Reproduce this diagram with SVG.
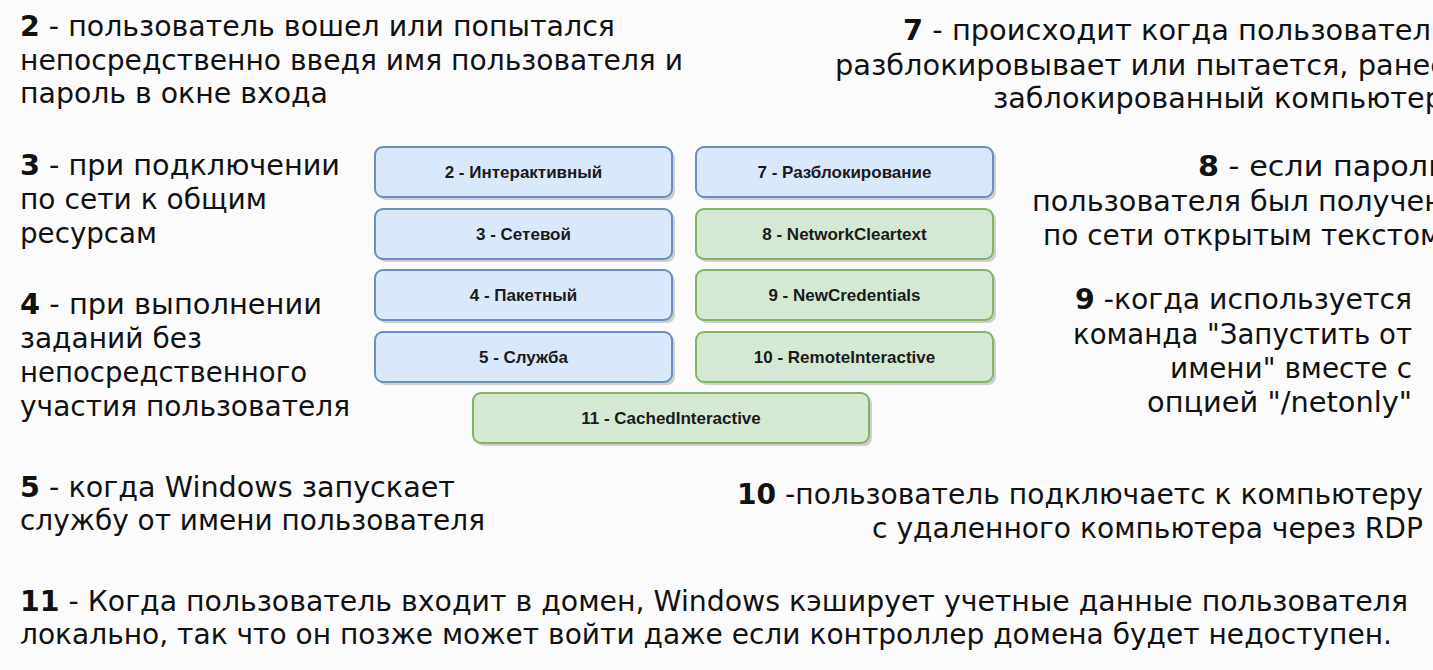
<svg xmlns="http://www.w3.org/2000/svg" width="1433" height="670" viewBox="0 0 1433 670">
<style>
.t{font-family:"DejaVu Sans","Verdana",sans-serif;font-size:28px;fill:#111}
.b{font-weight:bold}
.bx{font-family:"Liberation Sans",Arial,sans-serif;font-size:17px;font-weight:bold;fill:#1a1a1a;text-anchor:middle}
.blue{fill:#dae8fc;stroke:#6c8ebf;stroke-width:2}
.green{fill:#d5e8d4;stroke:#82b366;stroke-width:2}
.sh{fill:#9a9a9a;opacity:0.45}
</style>
<rect width="1433" height="670" fill="#fbfbfb"/>

<g id="desc2">
<text class="t" x="20" y="36" textLength="595" lengthAdjust="spacingAndGlyphs"><tspan class="b">2</tspan> - пользователь вошел или попытался</text>
<text class="t" x="20" y="70" textLength="663" lengthAdjust="spacingAndGlyphs">непосредственно введя имя пользователя и</text>
<text class="t" x="20" y="103" textLength="308" lengthAdjust="spacingAndGlyphs">пароль в окне входа</text>
</g>
<g id="desc3">
<text class="t" x="20" y="175" textLength="320" lengthAdjust="spacingAndGlyphs"><tspan class="b">3</tspan> - при подключении</text>
<text class="t" x="20" y="209" textLength="247" lengthAdjust="spacingAndGlyphs">по сети к общим</text>
<text class="t" x="20" y="243" textLength="137" lengthAdjust="spacingAndGlyphs">ресурсам</text>
</g>
<g id="desc4">
<text class="t" x="20" y="314" textLength="302" lengthAdjust="spacingAndGlyphs"><tspan class="b">4</tspan> - при выполнении</text>
<text class="t" x="20" y="348" textLength="182" lengthAdjust="spacingAndGlyphs">заданий без</text>
<text class="t" x="20" y="382" textLength="287" lengthAdjust="spacingAndGlyphs">непосредственного</text>
<text class="t" x="20" y="416" textLength="330" lengthAdjust="spacingAndGlyphs">участия пользователя</text>
</g>
<g id="desc5">
<text class="t" x="20" y="497" textLength="435" lengthAdjust="spacingAndGlyphs"><tspan class="b">5</tspan> - когда Windows запускает</text>
<text class="t" x="20" y="530" textLength="465" lengthAdjust="spacingAndGlyphs">службу от имени пользователя</text>
</g>
<g id="desc7">
<text class="t" x="903" y="40" textLength="545" lengthAdjust="spacingAndGlyphs"><tspan class="b">7</tspan> - происходит когда пользователь</text>
<text class="t" x="835" y="75" textLength="613" lengthAdjust="spacingAndGlyphs">разблокировывает или пытается, ранее</text>
<text class="t" x="993" y="108" textLength="450" lengthAdjust="spacingAndGlyphs">заблокированный компьютер</text>
</g>
<g id="desc8">
<text class="t" x="1198" y="176" textLength="248" lengthAdjust="spacingAndGlyphs"><tspan class="b">8</tspan> - если пароль</text>
<text class="t" x="1032" y="211" textLength="411" lengthAdjust="spacingAndGlyphs">пользователя был получен</text>
<text class="t" x="1043" y="245" textLength="398" lengthAdjust="spacingAndGlyphs">по сети открытым текстом</text>
</g>
<g id="desc9">
<text class="t" x="1075" y="309" textLength="337" lengthAdjust="spacingAndGlyphs"><tspan class="b">9</tspan> -когда используется</text>
<text class="t" x="1073" y="344" textLength="339" lengthAdjust="spacingAndGlyphs">команда "Запустить от</text>
<text class="t" x="1170" y="378" textLength="242" lengthAdjust="spacingAndGlyphs">имени" вместе с</text>
<text class="t" x="1147" y="412" textLength="265" lengthAdjust="spacingAndGlyphs">опцией "/netonly"</text>
</g>
<g id="desc10">
<text class="t" x="737" y="504" textLength="686" lengthAdjust="spacingAndGlyphs"><tspan class="b">10</tspan> -пользователь подключаетс к компьютеру</text>
<text class="t" x="872" y="538" textLength="551" lengthAdjust="spacingAndGlyphs">с удаленного компьютера через RDP</text>
</g>
<g id="desc11">
<text class="t" x="20" y="611" textLength="1388" lengthAdjust="spacingAndGlyphs"><tspan class="b">11</tspan> - Когда пользователь входит в домен, Windows кэширует учетные данные пользователя</text>
<text class="t" x="20" y="644" textLength="1372" lengthAdjust="spacingAndGlyphs">локально, так что он позже может войти даже если контроллер домена будет недоступен.</text>
</g>

<g id="connectors"></g>

<g id="node2">
<rect class="sh" x="378" y="150" width="297" height="50" rx="8"/>
<rect class="blue" x="375" y="147" width="297" height="50" rx="8"/>
<text class="bx" x="523.5" y="178">2 - Интерактивный</text>
</g>
<g id="node3">
<rect class="sh" x="378" y="212" width="297" height="50" rx="8"/>
<rect class="blue" x="375" y="209" width="297" height="50" rx="8"/>
<text class="bx" x="523.5" y="240">3 - Сетевой</text>
</g>
<g id="node4">
<rect class="sh" x="378" y="273" width="297" height="50" rx="8"/>
<rect class="blue" x="375" y="270" width="297" height="50" rx="8"/>
<text class="bx" x="523.5" y="301">4 - Пакетный</text>
</g>
<g id="node5">
<rect class="sh" x="378" y="335" width="297" height="50" rx="8"/>
<rect class="blue" x="375" y="332" width="297" height="50" rx="8"/>
<text class="bx" x="523.5" y="363">5 - Служба</text>
</g>
<g id="node7">
<rect class="sh" x="699" y="150" width="297" height="50" rx="8"/>
<rect class="blue" x="696" y="147" width="297" height="50" rx="8"/>
<text class="bx" x="844.5" y="178">7 - Разблокирование</text>
</g>
<g id="node8">
<rect class="sh" x="699" y="212" width="297" height="50" rx="8"/>
<rect class="green" x="696" y="209" width="297" height="50" rx="8"/>
<text class="bx" x="844.5" y="240">8 - NetworkCleartext</text>
</g>
<g id="node9">
<rect class="sh" x="699" y="273" width="297" height="50" rx="8"/>
<rect class="green" x="696" y="270" width="297" height="50" rx="8"/>
<text class="bx" x="844.5" y="301">9 - NewCredentials</text>
</g>
<g id="node10">
<rect class="sh" x="699" y="335" width="297" height="50" rx="8"/>
<rect class="green" x="696" y="332" width="297" height="50" rx="8"/>
<text class="bx" x="844.5" y="363">10 - RemoteInteractive</text>
</g>
<g id="node11">
<rect class="sh" x="476" y="396" width="396" height="50" rx="8"/>
<rect class="green" x="473" y="393" width="396" height="50" rx="8"/>
<text class="bx" x="671" y="424">11 - CachedInteractive</text>
</g>
</svg>
